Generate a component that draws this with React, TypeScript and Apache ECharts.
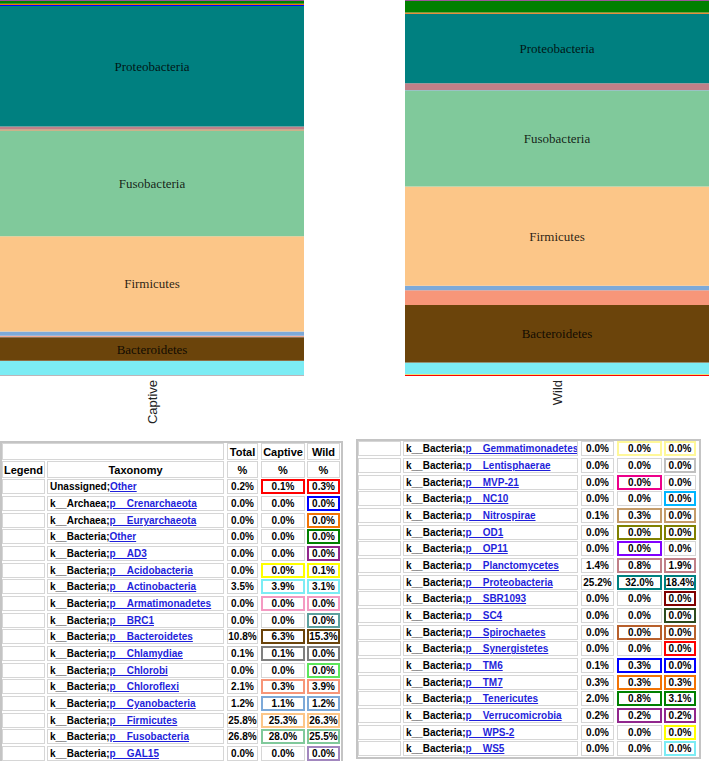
import React, { useEffect, useRef } from "react";
import * as echarts from "echarts";

// ---- data ----
const taxPrefix = [
  "Unassigned;", "k__Archaea;", "k__Archaea;", "k__Bacteria;", "k__Bacteria;", "k__Bacteria;",
  "k__Bacteria;", "k__Bacteria;", "k__Bacteria;", "k__Bacteria;", "k__Bacteria;", "k__Bacteria;",
  "k__Bacteria;", "k__Bacteria;", "k__Bacteria;", "k__Bacteria;", "k__Bacteria;", "k__Bacteria;",
  "k__Bacteria;", "k__Bacteria;", "k__Bacteria;", "k__Bacteria;", "k__Bacteria;", "k__Bacteria;",
  "k__Bacteria;", "k__Bacteria;", "k__Bacteria;", "k__Bacteria;", "k__Bacteria;", "k__Bacteria;",
  "k__Bacteria;", "k__Bacteria;", "k__Bacteria;", "k__Bacteria;", "k__Bacteria;", "k__Bacteria;",
];
const taxLink = [
  "Other", "p__Crenarchaeota", "p__Euryarchaeota", "Other", "p__AD3", "p__Acidobacteria",
  "p__Actinobacteria", "p__Armatimonadetes", "p__BRC1", "p__Bacteroidetes", "p__Chlamydiae", "p__Chlorobi",
  "p__Chloroflexi", "p__Cyanobacteria", "p__Firmicutes", "p__Fusobacteria", "p__GAL15", "p__Gemmatimonadetes",
  "p__Lentisphaerae", "p__MVP-21", "p__NC10", "p__Nitrospirae", "p__OD1", "p__OP11",
  "p__Planctomycetes", "p__Proteobacteria", "p__SBR1093", "p__SC4", "p__Spirochaetes", "p__Synergistetes",
  "p__TM6", "p__TM7", "p__Tenericutes", "p__Verrucomicrobia", "p__WPS-2", "p__WS5",
];
const totalPct = [
  0.2, 0.0, 0.0, 0.0, 0.0, 0.0, 3.5, 0.0, 0.0, 10.8, 0.1, 0.0,
  2.1, 1.2, 25.8, 26.8, 0.0, 0.0, 0.0, 0.0, 0.0, 0.1, 0.0, 0.0,
  1.4, 25.2, 0.0, 0.0, 0.0, 0.0, 0.1, 0.3, 2.0, 0.2, 0.0, 0.0,
];
// 0.01 = present but shown as 0.0%
const captivePct = [
  0.1, 0, 0, 0, 0, 0.01, 3.9, 0.01, 0, 6.3, 0.1, 0,
  0.3, 1.1, 25.3, 28.0, 0, 0.01, 0, 0.01, 0, 0.3, 0.01, 0.01,
  0.8, 32.0, 0, 0, 0.01, 0, 0.3, 0.3, 0.8, 0.2, 0, 0,
];
const wildPct = [
  0.3, 0.01, 0.01, 0.01, 0.01, 0.1, 3.1, 0.01, 0.01, 15.3, 0.01, 0.01,
  3.9, 1.2, 26.3, 25.5, 0.01, 0.01, 0.01, 0, 0.01, 0.01, 0.01, 0,
  1.9, 18.4, 0.01, 0.01, 0.01, 0.01, 0.01, 0.3, 3.1, 0.2, 0.01, 0.01,
];
const samples = ["Captive", "Wild"];

// ---- styles ----
const palette = [
  "#ff0000", "#0000ff", "#f27304", "#008000", "#91278d", "#ffff00", "#7cecf4", "#f49ac2",
  "#5da09e", "#6b440b", "#808080", "#5ce65c", "#f79679", "#7da9d8", "#fcc688", "#80c99b",
  "#a287bf", "#fff899", "#c0c0c0", "#ed008a", "#00b6ff", "#c49c6b", "#808000", "#8100ff",
  "#c08088", "#008080", "#800000", "#2d4a1e", "#b8602c",
];
const colorOf = (i: number) => palette[i % palette.length];
const SPLIT = 17;

const font = "'Liberation Sans', Arial, sans-serif";

function Chart() {
  const ref = useRef<HTMLDivElement>(null);
  useEffect(() => {
    if (!ref.current) return;
    const chart = echarts.init(ref.current, undefined, { renderer: "svg" });
    const sets = [captivePct, wildPct];
    const series: any[] = [];
    sets.forEach((vals, g) => {
      vals.forEach((v, i) => {
        const name = taxLink[i].replace("p__", "");
        series.push({
          name,
          type: "bar",
          stack: "s" + g,
          xAxisIndex: g,
          yAxisIndex: g,
          barWidth: "100%",
          data: [v],
          itemStyle: { color: colorOf(i) },
          label: {
            show: v >= 5,
            position: "inside",
            formatter: "{a}",
            fontFamily: "'Liberation Serif', 'Times New Roman', serif",
            fontSize: 13,
            color: "rgba(0,0,0,0.85)",
          },
        });
      });
    });
    const sums = sets.map((s) => s.reduce((a, b) => a + b, 0));
    chart.setOption({
      animation: false,
      grid: [
        { left: 0, top: 0, width: 304, height: 376 },
        { left: 405, top: 0, width: 304, height: 376 },
      ],
      xAxis: samples.map((s, g) => ({
        type: "category",
        gridIndex: g,
        data: [s],
        axisLine: { show: false },
        axisTick: { show: false },
        axisLabel: { rotate: 90, fontSize: 13, color: "#222", margin: 4, fontFamily: font },
      })),
      yAxis: samples.map((s, g) => ({
        type: "value",
        gridIndex: g,
        show: false,
        min: 0,
        max: sums[g],
      })),
      series,
    });
    return () => chart.dispose();
  }, []);
  return <div ref={ref} style={{ position: "absolute", left: 0, top: 0, width: 709, height: 440 }} />;
}

type Col = [number, number];
const leftCols: Col[] = [[2, 45], [47, 224], [227, 258], [261, 305], [307, 340]];
const rightCols: Col[] = [[358, 401], [403, 578], [581, 614], [617, 662], [664, 696]];
const PITCH = 16.67;

function box(x0: number, x1: number, y: number, h: number, border: string, extra: any = {}) {
  return {
    position: "absolute" as const,
    left: x0,
    top: y,
    width: x1 - x0,
    height: h,
    boxSizing: "border-box" as const,
    border,
    display: "flex",
    alignItems: "center",
    fontFamily: font,
    fontWeight: "bold" as const,
    fontSize: 10,
    color: "#000",
    background: "#fff",
    whiteSpace: "nowrap" as const,
    overflow: "hidden",
    ...extra,
  };
}

const plainBorder = "1px solid #d6d6d6";

function fmt(v: number) {
  return v.toFixed(1) + "%";
}

function Rows({ cols, start, end, top }: { cols: Col[]; start: number; end: number; top: number }) {
  const out: any[] = [];
  for (let i = start; i < end; i++) {
    const y = top + (i - start) * PITCH;
    const c = colorOf(i);
    out.push(
      <div key={"l" + i} style={box(cols[0][0], cols[0][1], y, 15, plainBorder)} />,
      <div key={"t" + i} style={box(cols[1][0], cols[1][1], y, 15, plainBorder, { paddingLeft: 2 })}>
        <span>{taxPrefix[i]}</span>
        <span style={{ color: "#1f1fdb", textDecoration: "underline" }}>{taxLink[i]}</span>
      </div>,
      <div key={"a" + i} style={box(cols[2][0], cols[2][1], y, 15, plainBorder, { justifyContent: "center" })}>
        {fmt(totalPct[i])}
      </div>,
      <div
        key={"c" + i}
        style={box(cols[3][0], cols[3][1], y, 15, captivePct[i] > 0 ? "2px solid " + c : plainBorder, {
          justifyContent: "center",
        })}
      >
        {fmt(captivePct[i])}
      </div>,
      <div
        key={"w" + i}
        style={box(cols[4][0], cols[4][1], y, 15, wildPct[i] > 0 ? "2px solid " + c : plainBorder, {
          justifyContent: "center",
        })}
      >
        {fmt(wildPct[i])}
      </div>
    );
  }
  return <>{out}</>;
}

function Tables() {
  const hdr = { justifyContent: "center", fontSize: 11 };
  return (
    <>
      <div
        style={{
          position: "absolute",
          left: 0,
          top: 441,
          width: 343,
          height: 330,
          boxSizing: "border-box",
          border: "2px solid #c4c4c4",
          background: "#fff",
        }}
      />
      <div
        style={{
          position: "absolute",
          left: 356,
          top: 439,
          width: 345,
          height: 320,
          boxSizing: "border-box",
          border: "2px solid #c4c4c4",
          background: "#fff",
        }}
      />
      <div style={box(2, 224, 443, 17, plainBorder)} />
      <div style={box(227, 258, 443, 17, plainBorder, hdr)}>Total</div>
      <div style={box(261, 305, 443, 17, plainBorder, hdr)}>Captive</div>
      <div style={box(307, 340, 443, 17, plainBorder, hdr)}>Wild</div>
      <div style={box(2, 45, 461, 17, plainBorder, hdr)}>Legend</div>
      <div style={box(47, 224, 461, 17, plainBorder, hdr)}>Taxonomy</div>
      <div style={box(227, 258, 461, 17, plainBorder, hdr)}>%</div>
      <div style={box(261, 305, 461, 17, plainBorder, hdr)}>%</div>
      <div style={box(307, 340, 461, 17, plainBorder, hdr)}>%</div>
      <Rows cols={leftCols} start={0} end={SPLIT} top={479.3} />
      <Rows cols={rightCols} start={SPLIT} end={taxLink.length} top={441.3} />
    </>
  );
}

export default function App() {
  return (
    <div style={{ position: "absolute", left: 0, top: 0, width: 709, height: 761, overflow: "hidden", background: "#fff" }}>
      <Chart />
      <Tables />
    </div>
  );
}
